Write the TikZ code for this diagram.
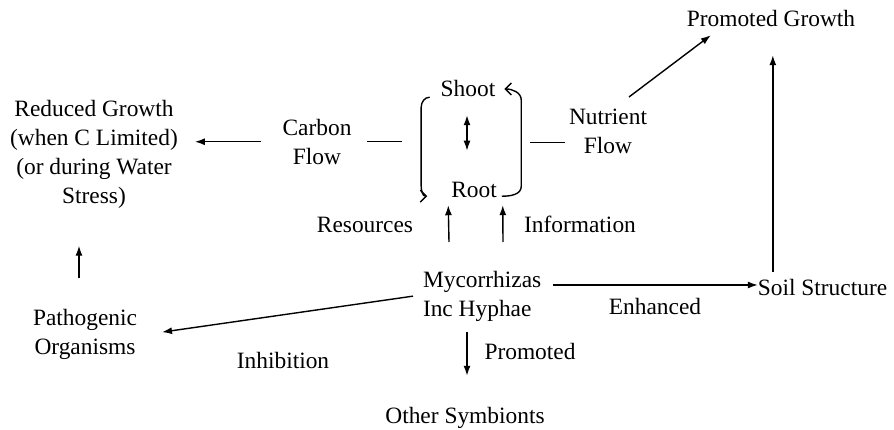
\documentclass[tikz,border=0pt]{standalone}
\usepackage{fontspec}
\setmainfont{Liberation Serif}
\usetikzlibrary{arrows.meta,calc}
\begin{document}
\begin{tikzpicture}[x=1pt,y=-1pt,
  every node/.style={inner sep=0pt,outer sep=0pt,font=\fontsize{23.4}{29}\selectfont},
  lbl/.style={anchor=base},
  arr/.style={line width=1.4pt,-{Latex[length=10pt,width=7pt]}},
  dbl/.style={line width=1.4pt,{Latex[length=10pt,width=7pt]}-{Latex[length=10pt,width=7pt]}},
  plain/.style={line width=1.4pt},
  barb/.style={line width=1.4pt,-{Straight Barb[length=6pt,width=12pt]}}]
\useasboundingbox (0,0) rectangle (894,430);
% nodes
\node[lbl] (growth) at (771,27) {Promoted Growth};
\node[anchor=north,align=center] (reduced) at (94,100.5) {Reduced Growth\\(when C Limited)\\(or during Water\\Stress)};
\node[anchor=north,align=center] (carbon) at (317,119) {Carbon\\Flow};
\node[lbl] (shoot) at (468,97) {Shoot};
\node[lbl] (root) at (474,198) {Root};
\node[anchor=north,align=center] (nutrient) at (608,109) {Nutrient\\Flow};
\node[lbl] (resources) at (365,233) {Resources};
\node[lbl] (information) at (580,233) {Information};
\node[anchor=north west,align=left] (myc) at (423,271) {Mycorrhizas\\Inc Hyphae};
\node[lbl] (soil) at (822.5,295) {Soil Structure};
\node[lbl] (enhanced) at (655,315) {Enhanced};
\node[anchor=north,align=center] (path) at (85,309) {Pathogenic\\Organisms};
\node[lbl] (inhibition) at (283,368) {Inhibition};
\node[lbl] (promoted) at (530,359) {Promoted};
\node[lbl] (other) at (465,423) {Other Symbionts};
% connectors
\draw[arr] ($(carbon.west)+(-22,0)$) -- ($(reduced.east|-carbon.west)+(17,0)$);
\draw[plain] ($(carbon.east)+(16,0)$) -- ($(carbon.east)+(51,0)$);
\draw[plain] ($(nutrient.west|-carbon.east)+(-39,1)$) -- ($(nutrient.west|-carbon.east)+(-4,1)$);
\draw[arr] ($(nutrient.north)+(21,-12)$) -- ($(growth.south west)+(24,8)$);
\draw[arr] ($(soil.north west)+(15,-7)$) -- ($(soil.north west|-growth.south)+(15,28)$);
\draw[arr] ($(myc.east|-soil.west)+(12,-2)$) -- ($(soil.west)+(0,-2)$);
\draw[arr] ($(myc.west)+(-10,0)$) -- ($(path.east)+(25,-2)$);
\draw[arr] ($(path.north)+(-6,-31)$) -- ($(reduced.south)+(-15,37)$);
\draw[arr] ($(myc.north west)+(26,-29)$) -- ($(root.south west)+(-3,7)$);
\draw[arr] ($(myc.north west)+(80,-29)$) -- ($(root.south east)+(6,7)$);
\draw[dbl] ($(shoot.south)+(-1,18)$) -- ($(root.north)+(-7,-32)$);
\draw[arr] ($(myc.south west)+(44,11)$) -- ($(other.north)+(2,-31)$);
% shoot-root cycle
\coordinate (lt) at ($(shoot.south west)+(-11,0)$);
\coordinate (lb) at ($(root.south west)+(-24,-2)$);
\draw[barb] (lt) to[out=180,in=90] ($(lt)+(-8.5,10)$) -- ($(lt)+(-8.5,89)$) to[out=-90,in=180] (lb);
\coordinate (rb) at ($(root.south east)+(5,-2)$);
\coordinate (rt) at ($(shoot.east)+(9,0)$);
\draw[barb] (rb) to[out=0,in=-90] ($(rb)+(19.5,-10)$) -- ($(rb)+(19.5,-96)$) to[out=90,in=0] (rt);
\end{tikzpicture}
\end{document}
